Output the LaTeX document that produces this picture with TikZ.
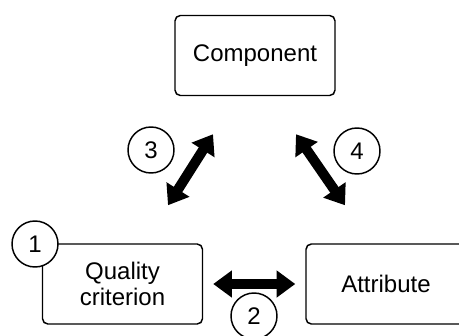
\documentclass[tikz,border=0pt]{standalone}
\usepackage{fontspec}
\setmainfont{Liberation Sans}
\usetikzlibrary{calc,arrows.meta}

\begin{document}
\begin{tikzpicture}[x=0.75pt,y=-0.75pt,
    box/.style={draw,line width=1.1pt,rounded corners=4pt,minimum width=120pt,
      minimum height=60pt,align=center,font=\fontsize{18}{19}\selectfont},
    num/.style={draw,circle,fill=white,line width=1.1pt,minimum size=34.5pt,
      inner sep=0pt,font=\fontsize{18}{18}\selectfont},
    dbl/.style={line width=7.5pt,
      {Triangle[width=19.5pt,length=14pt]}-{Triangle[width=19.5pt,length=14pt]}}]
      \useasboundingbox (0,0) rectangle (459,335);
      \clip (0,0) rectangle (459,335);

      \node[box] (comp) at (255,55.5) {Component};
      \node[box] (qual) at (122.5,284) {Quality\\criterion};
      \node[box] (attr) at (386,284) {Attribute};

      \node[num] (n1) at (35,244) {1};
      \node[num] (n2) at (254,316) {2};
      \node[num] (n3) at (151,150) {3};
      \node[num] (n4) at (357,151) {4};

      \coordinate (a3a) at ($(qual.north)+(45.5,-38)$);
      \coordinate (a3b) at ($(comp.south)+(-42,38)$);
      \coordinate (a4a) at ($(comp.south)+(41,38)$);
      \coordinate (a4b) at ($(attr.north)+(-41,-38)$);

      \draw[dbl] (a3a) -- (a3b);
      \draw[dbl] (a4a) -- (a4b);
      \draw[dbl,shorten <=7.5pt,shorten >=7.5pt] (qual) -- (attr);
    \end{tikzpicture}
\end{document}
